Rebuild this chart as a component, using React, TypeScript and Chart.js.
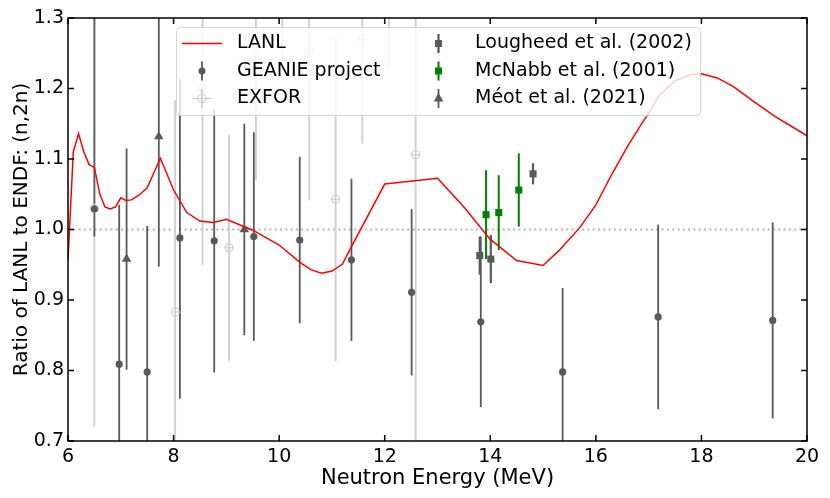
import { useEffect, useRef } from "react";
import { Chart, registerables } from "chart.js";

Chart.register(...registerables);

// LANL / ENDF ratio curve
const lanlEnergy = [
  6.0, 6.1, 6.2, 6.3, 6.4, 6.5, 6.6, 6.7, 6.8, 6.9, 7.0, 7.1, 7.2, 7.35, 7.5,
  7.75, 8.0, 8.25, 8.5, 8.75, 9.0, 9.5, 10.0, 10.4, 10.6, 10.8, 11.0, 11.2,
  11.35, 12.0, 13.0, 13.5, 14.0, 14.5, 15.0, 15.3, 15.7, 16.0, 16.3, 16.6,
  16.85, 17.0, 17.2, 17.5, 17.8, 18.0, 18.3, 18.6, 19.0, 19.4, 20.0,
];
const lanlRatio = [
  0.957, 1.11, 1.136, 1.11, 1.092, 1.088, 1.051, 1.032, 1.029, 1.032, 1.045,
  1.041, 1.042, 1.049, 1.059, 1.101, 1.056, 1.024, 1.012, 1.01, 1.0145, 0.999,
  0.978, 0.953, 0.943, 0.938, 0.941, 0.951, 0.973, 1.0645, 1.0726, 1.032,
  0.986, 0.956, 0.949, 0.97, 1.003, 1.035, 1.078, 1.118, 1.148, 1.165, 1.19,
  1.211, 1.22, 1.221, 1.215, 1.203, 1.181, 1.16, 1.133,
];

// GEANIE project
const geanieEnergy = [6.5, 6.97, 7.5, 8.12, 8.77, 9.52, 10.39, 11.37, 12.51, 13.82, 15.37, 17.18, 19.35];
const geanieRatio = [1.029, 0.809, 0.798, 0.988, 0.984, 0.99, 0.985, 0.957, 0.911, 0.869, 0.798, 0.876, 0.871];
const geanieErrLow = [0.039, 0.226, 0.207, 0.228, 0.187, 0.148, 0.118, 0.115, 0.118, 0.121, 0.119, 0.131, 0.139];
const geanieErrHigh = [0.32, 0.226, 0.207, 0.225, 0.186, 0.148, 0.118, 0.115, 0.118, 0.121, 0.119, 0.131, 0.139];

// EXFOR
const exforEnergy = [6.5, 8.03, 8.55, 9.05, 9.56, 10.06, 10.57, 11.07, 11.575, 12.08, 12.586];
const exforRatio = [1.03, 0.883, 1.2, 0.974, 1.25, 1.38, 1.2546, 1.043, 1.27, 1.4, 1.106];
const exforErr = [0.31, 0.3, 0.25, 0.16, 0.18, 0.14, 0.213, 0.23, 0.148, 0.17, 0.45];
const exforEnergyErr = [0.08, 0.08, 0.08, 0.08, 0.08, 0.08, 0.08, 0.08, 0.08, 0.08, 0.08];

// Lougheed et al. (2002)
const lougheedEnergy = [13.8, 14.01, 14.81];
const lougheedRatio = [0.963, 0.958, 1.079];
const lougheedErr = [0.027, 0.034, 0.015];

// McNabb et al. (2001)
const mcnabbEnergy = [13.92, 14.16, 14.54];
const mcnabbRatio = [1.021, 1.024, 1.056];
const mcnabbErr = [0.063, 0.053, 0.052];

// Méot et al. (2021)
const meotEnergy = [7.11, 7.72, 9.34];
const meotRatio = [0.958, 1.132, 1.0];
const meotErr = [0.157, 0.185, 0.15];

const xTickValues = [6, 8, 10, 12, 14, 16, 18, 20];
const yTickValues = [0.7, 0.8, 0.9, 1.0, 1.1, 1.2, 1.3];
const referenceRatio = 1.0;

const DARK = "#595959";
const LIGHT = "#cfcfcf";
const GREEN = "#008000";
const FONT = "DejaVu Sans";

const toPoints = (xs: number[], ys: number[]) => xs.map((x, i) => ({ x, y: ys[i] }));

type ErrSeries = {
  xs: number[];
  ys: number[];
  lo: number[];
  hi: number[];
  xerr?: number[];
  color: string;
  width: number;
};

const errSeries: ErrSeries[] = [
  { xs: exforEnergy, ys: exforRatio, lo: exforErr, hi: exforErr, xerr: exforEnergyErr, color: LIGHT, width: 1.8 },
  { xs: geanieEnergy, ys: geanieRatio, lo: geanieErrLow, hi: geanieErrHigh, color: DARK, width: 1.8 },
  { xs: meotEnergy, ys: meotRatio, lo: meotErr, hi: meotErr, color: DARK, width: 1.8 },
  { xs: lougheedEnergy, ys: lougheedRatio, lo: lougheedErr, hi: lougheedErr, color: DARK, width: 2.2 },
  { xs: mcnabbEnergy, ys: mcnabbRatio, lo: mcnabbErr, hi: mcnabbErr, color: GREEN, width: 2 },
];

const figurePlugin = {
  id: "figure",
  beforeDatasetsDraw(chart: any) {
    const { ctx, chartArea: a, scales } = chart;
    const x = scales.x;
    const y = scales.y;
    ctx.save();
    ctx.beginPath();
    ctx.rect(a.left, a.top, a.right - a.left, a.bottom - a.top);
    ctx.clip();

    // dotted reference line
    const yr = y.getPixelForValue(referenceRatio);
    ctx.strokeStyle = "#b3b3b3";
    ctx.lineWidth = 2;
    ctx.setLineDash([2, 3.3]);
    ctx.beginPath();
    ctx.moveTo(a.left, yr);
    ctx.lineTo(a.right, yr);
    ctx.stroke();
    ctx.setLineDash([]);

    for (const s of errSeries) {
      ctx.strokeStyle = s.color;
      ctx.lineWidth = s.width;
      s.xs.forEach((xv, i) => {
        const px = x.getPixelForValue(xv);
        ctx.beginPath();
        ctx.moveTo(px, y.getPixelForValue(s.ys[i] - s.lo[i]));
        ctx.lineTo(px, y.getPixelForValue(s.ys[i] + s.hi[i]));
        ctx.stroke();
        if (s.xerr) {
          const py = y.getPixelForValue(s.ys[i]);
          ctx.lineWidth = 1.2;
          ctx.beginPath();
          ctx.moveTo(x.getPixelForValue(xv - s.xerr[i]), py);
          ctx.lineTo(x.getPixelForValue(xv + s.xerr[i]), py);
          ctx.stroke();
          ctx.lineWidth = s.width;
        }
      });
    }
    ctx.restore();
  },
  afterDatasetsDraw(chart: any) {
    const { ctx, chartArea: a, scales } = chart;
    ctx.save();
    ctx.strokeStyle = "#000";
    ctx.lineWidth = 1.5;
    ctx.strokeRect(a.left, a.top, a.right - a.left, a.bottom - a.top);
    const len = 6;
    ctx.beginPath();
    for (const v of xTickValues) {
      const px = scales.x.getPixelForValue(v);
      ctx.moveTo(px, a.bottom);
      ctx.lineTo(px, a.bottom - len);
      ctx.moveTo(px, a.top);
      ctx.lineTo(px, a.top + len);
    }
    for (const v of yTickValues) {
      const py = scales.y.getPixelForValue(v);
      ctx.moveTo(a.left, py);
      ctx.lineTo(a.left + len, py);
      ctx.moveTo(a.right, py);
      ctx.lineTo(a.right - len, py);
    }
    ctx.stroke();
    ctx.restore();
  },
  afterDraw(chart: any) {
    const { ctx } = chart;
    ctx.save();
    // legend box
    const bx = 176.5, by = 27.5, bw = 524, bh = 88, r = 4;
    ctx.beginPath();
    ctx.moveTo(bx + r, by);
    ctx.arcTo(bx + bw, by, bx + bw, by + bh, r);
    ctx.arcTo(bx + bw, by + bh, bx, by + bh, r);
    ctx.arcTo(bx, by + bh, bx, by, r);
    ctx.arcTo(bx, by, bx + bw, by, r);
    ctx.closePath();
    ctx.fillStyle = "rgba(255,255,255,0.8)";
    ctx.fill();
    ctx.strokeStyle = "rgba(204,204,204,0.8)";
    ctx.lineWidth = 1;
    ctx.stroke();

    const rows = [43.5, 71, 98.5];
    const c1 = 202, c2 = 438.5;
    // LANL
    ctx.strokeStyle = "#ff0000";
    ctx.lineWidth = 1.5;
    ctx.beginPath();
    ctx.moveTo(182, rows[0]);
    ctx.lineTo(222, rows[0]);
    ctx.stroke();
    const vbar = (cx: number, cy: number, color: string, w: number) => {
      ctx.strokeStyle = color;
      ctx.lineWidth = w;
      ctx.beginPath();
      ctx.moveTo(cx, cy - 9.5);
      ctx.lineTo(cx, cy + 9.5);
      ctx.stroke();
    };
    // GEANIE
    vbar(c1, rows[1], DARK, 1.8);
    ctx.fillStyle = DARK;
    ctx.beginPath();
    ctx.arc(c1, rows[1], 3.5, 0, Math.PI * 2);
    ctx.fill();
    // EXFOR
    vbar(c1, rows[2], LIGHT, 1.8);
    ctx.lineWidth = 1.2;
    ctx.beginPath();
    ctx.moveTo(c1 - 10, rows[2]);
    ctx.lineTo(c1 + 10, rows[2]);
    ctx.stroke();
    ctx.beginPath();
    ctx.arc(c1, rows[2], 4, 0, Math.PI * 2);
    ctx.stroke();
    // Lougheed
    vbar(c2, rows[0], DARK, 2.2);
    ctx.fillStyle = DARK;
    ctx.fillRect(c2 - 3.5, rows[0] - 3.5, 7, 7);
    // McNabb
    vbar(c2, rows[1], GREEN, 2);
    ctx.fillStyle = GREEN;
    ctx.fillRect(c2 - 3.5, rows[1] - 3.5, 7, 7);
    // Méot
    vbar(c2, rows[2], DARK, 1.8);
    ctx.fillStyle = DARK;
    ctx.beginPath();
    ctx.moveTo(c2, rows[2] - 5.5);
    ctx.lineTo(c2 + 4.8, rows[2] + 3);
    ctx.lineTo(c2 - 4.8, rows[2] + 3);
    ctx.closePath();
    ctx.fill();

    ctx.fillStyle = "#000";
    ctx.font = `19px "${FONT}"`;
    ctx.textBaseline = "middle";
    ctx.textAlign = "left";
    ctx.fillText("LANL", 237, rows[0]);
    ctx.fillText("GEANIE project", 237, rows[1]);
    ctx.fillText("EXFOR", 237, rows[2]);
    ctx.fillText("Lougheed et al. (2002)", 475, rows[0]);
    ctx.fillText("McNabb et al. (2001)", 475, rows[1]);
    ctx.fillText("Méot et al. (2021)", 475, rows[2]);
    ctx.restore();
  },
};

function RatioChart() {
  const canvasRef = useRef<HTMLCanvasElement | null>(null);
  const chartRef = useRef<Chart | null>(null);

  useEffect(() => {
    if (!canvasRef.current) {
      return;
    }
    chartRef.current?.destroy();

    const tickFont = { family: FONT, size: 19 };

    chartRef.current = new Chart(canvasRef.current, {
      type: "scatter",
      data: {
        datasets: [
          {
            type: "line" as const,
            label: "LANL",
            data: toPoints(lanlEnergy, lanlRatio),
            borderColor: "#ff0000",
            borderWidth: 1.5,
            pointRadius: 0,
            tension: 0,
          },
          {
            label: "McNabb et al. (2001)",
            data: toPoints(mcnabbEnergy, mcnabbRatio),
            pointStyle: "rect",
            pointRadius: 5,
            backgroundColor: GREEN,
            borderColor: GREEN,
            borderWidth: 0,
          },
          {
            label: "Lougheed et al. (2002)",
            data: toPoints(lougheedEnergy, lougheedRatio),
            pointStyle: "rect",
            pointRadius: 5,
            backgroundColor: DARK,
            borderColor: DARK,
            borderWidth: 0,
          },
          {
            label: "Méot et al. (2021)",
            data: toPoints(meotEnergy, meotRatio),
            pointStyle: "triangle",
            pointRadius: 5.5,
            backgroundColor: DARK,
            borderColor: DARK,
            borderWidth: 0,
          },
          {
            label: "GEANIE project",
            data: toPoints(geanieEnergy, geanieRatio),
            pointStyle: "circle",
            pointRadius: 3.6,
            backgroundColor: DARK,
            borderColor: DARK,
            borderWidth: 0,
          },
          {
            label: "EXFOR",
            data: toPoints(exforEnergy, exforRatio),
            pointStyle: "circle",
            pointRadius: 4,
            backgroundColor: "rgba(0,0,0,0)",
            borderColor: LIGHT,
            borderWidth: 1.2,
          },
        ],
      },
      options: {
        animation: false,
        responsive: true,
        maintainAspectRatio: false,
        layout: { padding: { top: 18, right: 23, left: 0, bottom: 0 } },
        plugins: {
          legend: { display: false },
          tooltip: { enabled: false },
        },
        scales: {
          x: {
            type: "linear",
            min: 6,
            max: 20,
            afterFit: (s: any) => {
              s.height = 57;
            },
            afterBuildTicks: (s: any) => {
              s.ticks = xTickValues.map((value) => ({ value }));
            },
            grid: { display: false, drawTicks: false },
            border: { display: false },
            ticks: { color: "#000", font: tickFont, padding: 5, maxRotation: 0 },
            title: {
              display: true,
              text: "Neutron Energy (MeV)",
              color: "#000",
              font: { family: FONT, size: 21 },
              padding: { top: 0, bottom: 7 },
            },
          },
          y: {
            type: "linear",
            min: 0.7,
            max: 1.3,
            afterFit: (s: any) => {
              s.width = 68;
            },
            afterBuildTicks: (s: any) => {
              s.ticks = yTickValues.map((value) => ({ value }));
            },
            grid: { display: false, drawTicks: false },
            border: { display: false },
            ticks: {
              color: "#000",
              font: tickFont,
              padding: 4,
              callback: (v: any) => Number(v).toFixed(1),
            },
            title: {
              display: true,
              text: "Ratio of LANL to ENDF: (n,2n)",
              color: "#000",
              font: { family: FONT, size: 20 },
              padding: { top: 10, bottom: 0 },
            },
          },
        },
      },
      plugins: [figurePlugin],
    });

    return () => {
      chartRef.current?.destroy();
      chartRef.current = null;
    };
  }, []);

  return <canvas ref={canvasRef} />;
}

export default function App() {
  return (
    <div style={{ position: "absolute", left: 0, top: 0, width: 830, height: 498, background: "#fff" }}>
      <RatioChart />
    </div>
  );
}
